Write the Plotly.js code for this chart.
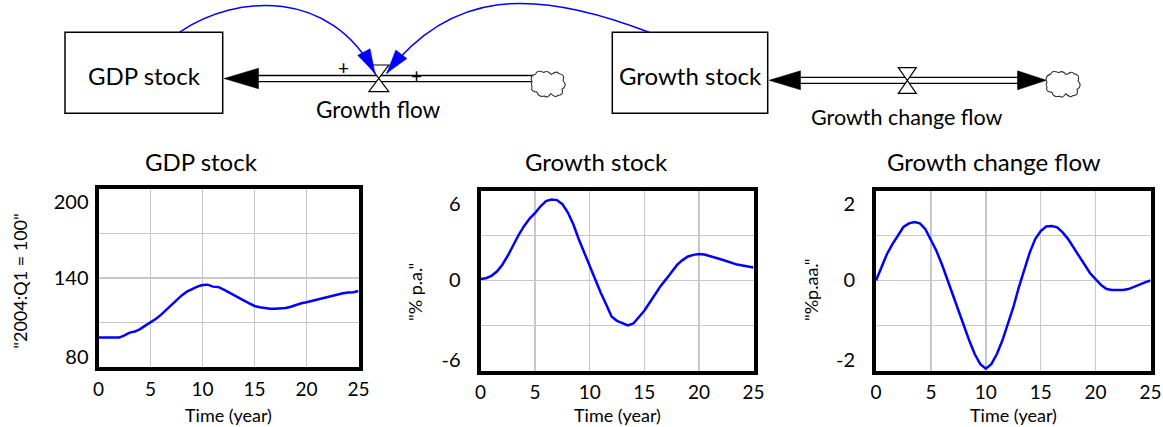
<!DOCTYPE html>
<html><head><meta charset="utf-8">
<script src="https://cdn.plot.ly/plotly-3.0.1.min.js"></script>
<style>html,body{margin:0;padding:0;background:#fff}#chart{width:1163px;height:427px}</style>
</head><body><div id="chart"></div>
<script>
// ---------- data ----------
const time = [0,0.5,1,1.5,2,2.5,3,3.5,4,4.5,5,5.5,6,6.5,7,7.5,8,8.5,9,9.5,10,10.5,11,11.5,12,12.5,13,13.5,14,14.5,15,15.5,16,16.5,17,17.5,18,18.5,19,19.5,20,20.5,21,21.5,22,22.5,23,23.5,24,24.5,25];
const gdpStock = [100,100,100,100,100,101.5,103.3,104,105.7,108,110,112.5,115.2,118.5,121.4,125.3,128.3,130.8,132.6,134.2,135.3,135.5,134.2,134,132.4,130.4,128.6,126.3,124.8,123,121.2,120.3,119.6,119.4,119.4,119.5,119.8,120.7,121.9,123,123.7,124.6,125.2,125.9,127,127.9,128.6,129.7,130.2,130.4,131.3];
const growthStock = [0.1,0.15,0.31,0.6,1.05,1.65,2.35,3.05,3.64,4.13,4.5,4.95,5.3,5.4,5.36,5.09,4.53,3.75,2.75,1.85,1.0,0.05,-0.8,-1.58,-2.4,-2.69,-2.87,-3.0,-2.87,-2.47,-2.02,-1.47,-0.91,-0.36,0.09,0.6,1.04,1.36,1.6,1.71,1.76,1.73,1.64,1.53,1.42,1.3,1.16,1.06,1.0,0.95,0.87];
const growthChangeFlow = [0,0.3,0.59,0.81,1.0,1.19,1.27,1.3,1.27,1.14,0.9,0.66,0.36,0.03,-0.3,-0.67,-1.0,-1.34,-1.64,-1.86,-1.96,-1.86,-1.64,-1.34,-0.97,-0.6,-0.16,0.25,0.62,0.92,1.1,1.2,1.21,1.18,1.07,0.92,0.73,0.51,0.33,0.16,0.03,-0.1,-0.19,-0.21,-0.21,-0.21,-0.19,-0.14,-0.08,-0.04,0];

const gdpTicks = [80,140,200];
const growthTicks = [-6,0,6];
const flowTicks = [-2,0,2];
const timeTicks = [0,5,10,15,20,25];

const chartTitles = ['GDP stock','Growth stock','Growth change flow'];
const yTitles = ['"2004:Q1 = 100"','"% p.a."','"%p.aa."'];
const xTitle = 'Time (year)';
const stockNames = ['GDP stock','Growth stock'];
const flowNames = ['Growth flow','Growth change flow'];

// ---------- layout helpers ----------
const W = 1163, H = 427;
const FONT = 'Lato, "Open Sans", sans-serif';
const GRID = '#c8c8c8';
const BLUE = '#0000ff';
const fx = p => p / W;
const fy = p => 1 - p / H;

const boxes = [
  {x0: 98.5, x1: 358.5, y0: 188.7, y1: 367.3, gap: 2},
  {x0: 480.5, x1: 753.5, y0: 190.5, y1: 370.5, gap: 12},
  {x0: 876, x1: 1150.5, y0: 190.5, y1: 370.5, gap: 13}
];

function yAxis(ticks, anchor, box) {
  const lo = ticks[0], hi = ticks[ticks.length - 1], span = hi - lo;
  const vals = ticks.map((v, i) => i === 0 ? lo + 0.06 * span :
    (i === ticks.length - 1 ? hi - 0.076 * span : v + 0.001 * span));
  return {
    domain: [fy(box.y1), fy(box.y0)], anchor: anchor, range: [lo, hi],
    tickmode: 'array', tickvals: vals, ticktext: ticks.map(String),
    showgrid: false, zeroline: false, showline: true, mirror: true,
    linewidth: 4, linecolor: '#000',
    ticks: 'outside', ticklen: box.gap, tickcolor: 'rgba(0,0,0,0)',
    tickfont: {family: FONT, size: 20, color: '#000'},
    minor: {tickmode: 'array', tickvals: [lo + span / 4, lo + span / 2, lo + 3 * span / 4],
            showgrid: true, gridcolor: GRID, gridwidth: 1.5, ticks: ''},
    fixedrange: true
  };
}
function xAxis(anchor, box) {
  return {
    domain: [fx(box.x0), fx(box.x1)], anchor: anchor, range: [0, 25],
    tickmode: 'array', tickvals: timeTicks,
    showgrid: true, gridcolor: GRID, gridwidth: 1.5, zeroline: false,
    showline: true, mirror: true, linewidth: 4, linecolor: '#000',
    ticks: 'outside', ticklen: 2, tickcolor: 'rgba(0,0,0,0)',
    tickfont: {family: FONT, size: 19, color: '#000'},
    fixedrange: true
  };
}

// ---------- traces ----------
const line = {color: BLUE, width: 2.5};
const traces = [
  {x: time, y: gdpStock, xaxis: 'x', yaxis: 'y', mode: 'lines', line: line, hoverinfo: 'x+y'},
  {x: time, y: growthStock, xaxis: 'x2', yaxis: 'y2', mode: 'lines', line: line, hoverinfo: 'x+y'},
  {x: time, y: growthChangeFlow, xaxis: 'x3', yaxis: 'y3', mode: 'lines', line: line, hoverinfo: 'x+y'},
  {x: [], y: [], xaxis: 'x4', yaxis: 'y4', mode: 'markers', hoverinfo: 'skip'}
];

// ---------- stock & flow diagram ----------
const shapes = [];
const D = {xref: 'x4', yref: 'y4'};
function rect(x0, y0, x1, y1) {
  shapes.push(Object.assign({type: 'rect', x0, y0, x1, y1, line: {color: '#000', width: 1.5}, fillcolor: 'rgba(0,0,0,0)'}, D));
}
function seg(x0, y0, x1, y1, color, w) {
  shapes.push(Object.assign({type: 'line', x0, y0, x1, y1, line: {color: color || '#000', width: w || 1.3}}, D));
}
function path(d, fill, color, w) {
  shapes.push(Object.assign({type: 'path', path: d, fillcolor: fill || 'rgba(0,0,0,0)', line: {color: color || '#000', width: w === undefined ? 1.3 : w}}, D));
}
function tri(p) { return 'M' + p.map(q => q[0].toFixed(2) + ',' + q[1].toFixed(2)).join(' L') + ' Z'; }
function valve(cx, top, bot, hw) {
  path('M' + (cx - hw) + ',' + top + ' L' + (cx + hw) + ',' + top + ' L' + (cx - hw) + ',' + bot + ' L' + (cx + hw) + ',' + bot + ' Z', '#fff', '#000', 1.2);
}
function cloud(x0, cy, w, h) {
  const pts = [[0,0.42],[0.12,0.08],[0.38,0.02],[0.62,0.1],[0.86,0.06],[1,0.36],[0.97,0.72],[0.82,0.98],[0.6,0.9],[0.4,1],[0.16,0.84],[0,0.62]];
  const cx = x0 + w / 2;
  let d = '';
  pts.forEach((p, i) => {
    const X = x0 + p[0] * w, Y = cy - h / 2 + p[1] * h;
    if (i === 0) { d += 'M' + X.toFixed(2) + ',' + Y.toFixed(2); return; }
    const q = pts[i - 1];
    const mx = x0 + (p[0] + q[0]) / 2 * w, my = cy - h / 2 + (p[1] + q[1]) / 2 * h;
    const ox = (mx - cx) * 0.35, oy = (my - cy) * 0.35;
    d += ' Q' + (mx + ox).toFixed(2) + ',' + (my + oy).toFixed(2) + ' ' + X.toFixed(2) + ',' + Y.toFixed(2);
  });
  const p = pts[0], q = pts[pts.length - 1];
  d += ' Q' + (x0 - 1.5).toFixed(2) + ',' + (cy - h / 2 + (p[1] + q[1]) / 2 * h).toFixed(2) + ' ' + (x0 + p[0] * w).toFixed(2) + ',' + (cy - h / 2 + p[1] * h).toFixed(2) + ' Z';
  path(d, '#fff', '#333', 1.1);
}
function arrowHead(tip, dir, L, hw, color) {
  const n = Math.hypot(dir[0], dir[1]); const u = [dir[0] / n, dir[1] / n]; const p = [-u[1], u[0]];
  const b = [tip[0] - L * u[0], tip[1] - L * u[1]];
  path(tri([tip, [b[0] + hw * p[0], b[1] + hw * p[1]], [b[0] - hw * p[0], b[1] - hw * p[1]]]), color, color, 0.5);
}

// stocks
rect(65, 32.3, 222.7, 113.3);
rect(612.3, 32.3, 767.7, 113.3);
// pipe 1 (Growth flow -> GDP stock)
seg(250, 75.5, 533, 75.5); seg(250, 81.6, 533, 81.6);
arrowHead([224, 78.5], [-1, 0], 34.5, 10.3, '#000');
valve(378.8, 65, 91.7, 10);
cloud(532, 84, 31, 24);
// pipe 2 (Growth change flow)
seg(795, 77.3, 1022, 77.3); seg(795, 83.3, 1022, 83.3);
arrowHead([769, 80.3], [-1, 0], 31.5, 9.5, '#000');
arrowHead([1046.5, 80.3], [1, 0], 29, 9.5, '#000');
valve(907.3, 67.7, 93.3, 9);
cloud(1047, 84.2, 31, 24);
// information links (blue arcs)
path('M179.3,32.3 C237.4,-6.9 331,-10.8 375,73.3', 'rgba(0,0,0,0)', BLUE, 1.5);
arrowHead([375, 73.3], [44, 84], 24, 7, BLUE);
path('M649,32.3 C532.75,-12.7 450.75,-9.65 386.7,73.3', 'rgba(0,0,0,0)', BLUE, 1.5);
arrowHead([386.7, 73.3], [-64, 83], 24, 7, BLUE);

// ---------- annotations ----------
const ann = [];
function txt(text, x, y, size, angle) {
  ann.push(Object.assign({text: text, x: x, y: y, showarrow: false, xanchor: 'center', yanchor: 'middle',
    textangle: angle || 0, font: {family: FONT, size: size, color: '#000'}}, D));
}
txt(stockNames[0], 144.5, 75.5, 24);
txt(stockNames[1], 690, 75.5, 24);
txt(flowNames[0], 377.5, 109.5, 22.5);
txt(flowNames[1], 906.7, 117, 21.5);
txt('+', 343.3, 67.5, 19);
txt('+', 416, 75.5, 19);
const titleX = [201.7, 596.7, 994];
const yTitleX = [20, 415, 811];
const yTitleY = [281.7, 292, 290];
boxes.forEach((b, i) => {
  txt(chartTitles[i], titleX[i], 161.5, 24);
  txt(xTitle, (b.x0 + b.x1) / 2, 414.5, 18);
  txt(yTitles[i], yTitleX[i], yTitleY[i], 18, -90);
});

const layout = {
  width: W, height: H, margin: {l: 0, r: 0, t: 0, b: 0},
  paper_bgcolor: '#fff', plot_bgcolor: 'rgba(0,0,0,0)', showlegend: false,
  font: {family: FONT, color: '#000'},
  xaxis: xAxis('y', boxes[0]), yaxis: yAxis(gdpTicks, 'x', boxes[0]),
  xaxis2: xAxis('y2', boxes[1]), yaxis2: yAxis(growthTicks, 'x2', boxes[1]),
  xaxis3: xAxis('y3', boxes[2]), yaxis3: yAxis(flowTicks, 'x3', boxes[2]),
  xaxis4: {domain: [0, 1], anchor: 'y4', range: [0, W], visible: false, fixedrange: true},
  yaxis4: {domain: [0, 1], anchor: 'x4', range: [H, 0], visible: false, fixedrange: true},
  shapes: shapes, annotations: ann
};
Plotly.newPlot('chart', traces, layout, {displayModeBar: false, staticPlot: true});
</script></body></html>
